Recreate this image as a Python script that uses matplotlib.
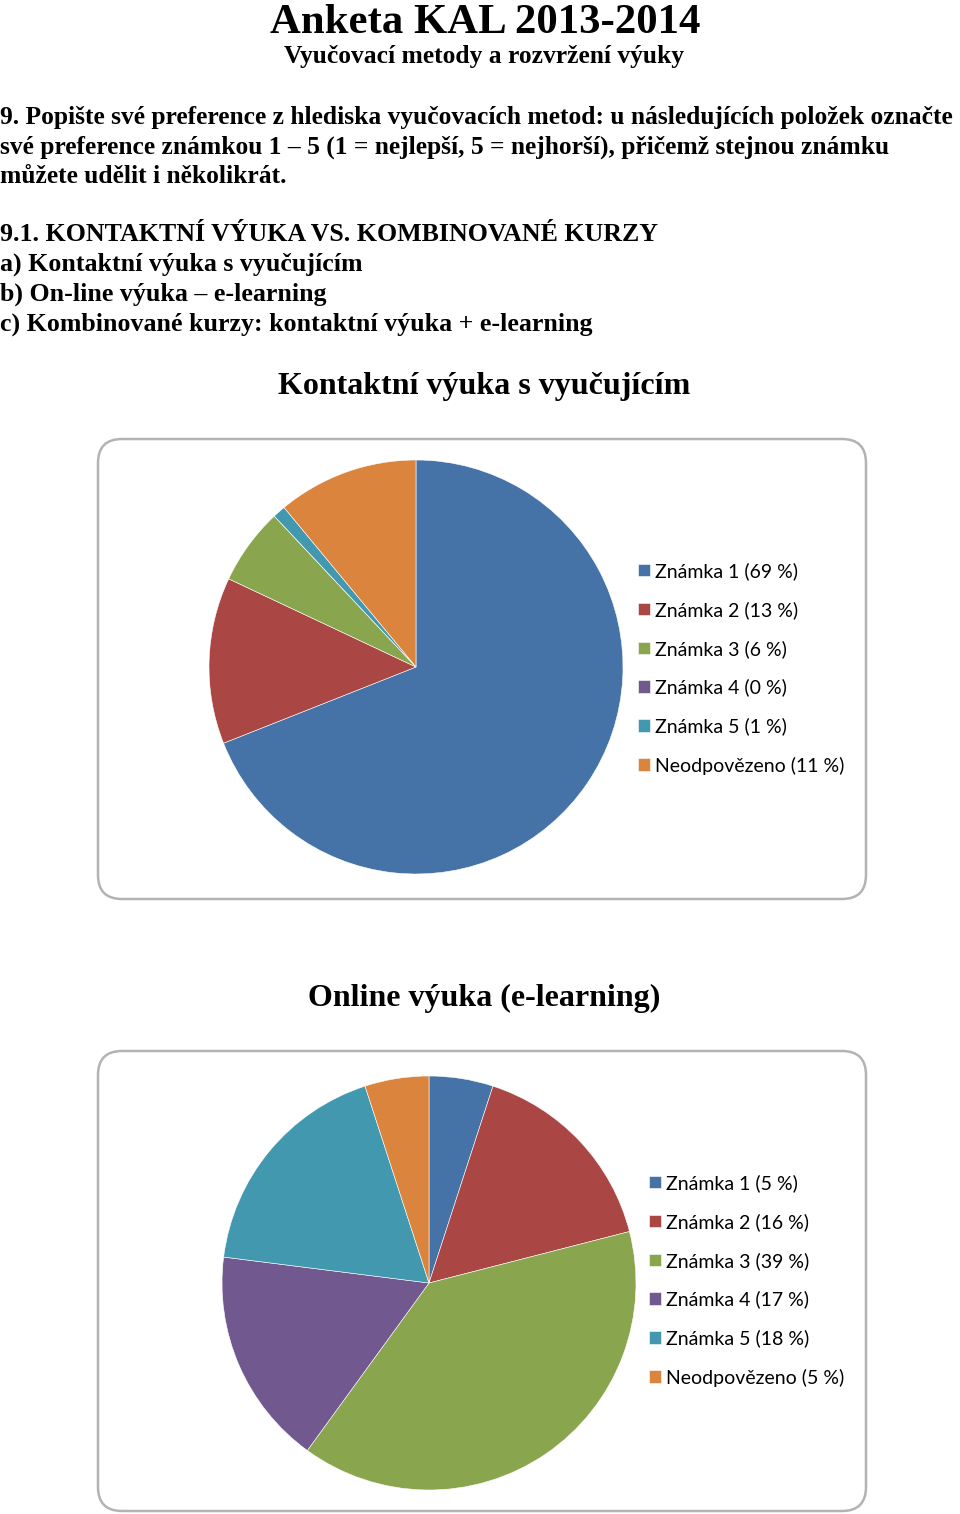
import matplotlib
matplotlib.use("Agg")
import matplotlib.pyplot as plt
from matplotlib.patches import FancyBboxPatch

W, H = 960, 1514
DPI = 100

# ---- data ----
labels1 = ["Známka 1 (69 %)", "Známka 2 (13 %)", "Známka 3 (6 %)",
           "Známka 4 (0 %)", "Známka 5 (1 %)", "Neodpovězeno (11 %)"]
values1 = [69, 13, 6, 0, 1, 11]
labels2 = ["Známka 1 (5 %)", "Známka 2 (16 %)", "Známka 3 (39 %)",
           "Známka 4 (17 %)", "Známka 5 (18 %)", "Neodpovězeno (5 %)"]
values2 = [5, 16, 39, 17, 18, 5]
colors = ["#4572A7", "#AA4643", "#89A54E", "#71588F", "#4198AF", "#DB843D"]

title_main = "Anketa KAL 2013-2014"
subtitle = "Vyučovací metody a rozvržení výuky"
body_lines = [
    "9. Popište své preference z hlediska vyučovacích metod: u následujících položek označte",
    "své preference známkou 1 – 5 (1 = nejlepší, 5 = nejhorší), přičemž stejnou známku",
    "můžete udělit i několikrát.",
]
section_lines = [
    "9.1. KONTAKTNÍ VÝUKA VS. KOMBINOVANÉ KURZY",
    "a) Kontaktní výuka s vyučujícím",
    "b) On-line výuka – e-learning",
    "c) Kombinované kurzy: kontaktní výuka + e-learning",
]
chart_title1 = "Kontaktní výuka s vyučujícím"
chart_title2 = "Online výuka (e-learning)"

fig = plt.figure(figsize=(W / DPI, H / DPI), dpi=DPI)
fig.patch.set_facecolor("white")

def fx(px):
    return px / W

def fy(py):
    return 1 - py / H

serif = "Liberation Serif"

fig.text(fx(485), fy(33), title_main, ha="center", va="baseline",
         family=serif, weight="bold", fontsize=30.8)
fig.text(fx(484), fy(63), subtitle, ha="center", va="baseline",
         family=serif, weight="bold", fontsize=18.4)
for i, line in enumerate(body_lines):
    fig.text(fx(0), fy(124 + 29.5 * i), line, ha="left", va="baseline",
             family=serif, weight="bold", fontsize=18.4)
for i, line in enumerate(section_lines):
    fig.text(fx(0), fy(241 + 29.7 * i), line, ha="left", va="baseline",
             family=serif, weight="bold", fontsize=18.6)

def chart(box_top, box_bot, title_y, center, radius, values, labels, leg_x, leg_y, title):
    # rounded frame
    box = FancyBboxPatch((fx(98), fy(box_bot)), fx(866 - 98), (box_bot - box_top) / H,
                         boxstyle="round,pad=0,rounding_size=0.025",
                         transform=fig.transFigure, facecolor="white",
                         edgecolor="#b3b3b3", linewidth=1.8, zorder=-5,
                         mutation_aspect=W / H)
    fig.patches.append(box)
    fig.text(fx(484), fy(title_y), title, ha="center", va="baseline",
             family=serif, weight="bold", fontsize=23)
    cx, cy = center
    ax = fig.add_axes([fx(cx - radius), fy(cy + radius), 2 * radius / W, 2 * radius / H])
    ax.set_zorder(2)
    ax.patch.set_visible(False)
    wedges, _ = ax.pie(values, colors=colors, startangle=90, counterclock=False,
                       radius=1, wedgeprops=dict(linewidth=0.4, edgecolor="white"))
    ax.set_xlim(-1, 1)
    ax.set_ylim(-1, 1)
    ax.set_aspect("equal")
    ax.axis("off")
    leg = fig.legend(wedges, labels, loc="upper left",
                     bbox_to_anchor=(fx(leg_x), fy(leg_y)), bbox_transform=fig.transFigure,
                     frameon=False, prop=dict(family="Lato", size=14),
                     handlelength=0.62, handleheight=0.62, handletextpad=0.25,
                     labelspacing=1.08, borderpad=0, borderaxespad=0)
    leg.set_zorder(3)

chart(439, 899, 394, (416, 667), 207, values1, labels1, 638, 562, chart_title1)
chart(1051, 1511, 1006, (429, 1283), 207, values2, labels2, 649, 1174, chart_title2)

fig.savefig("out.png", dpi=DPI, facecolor="white")
